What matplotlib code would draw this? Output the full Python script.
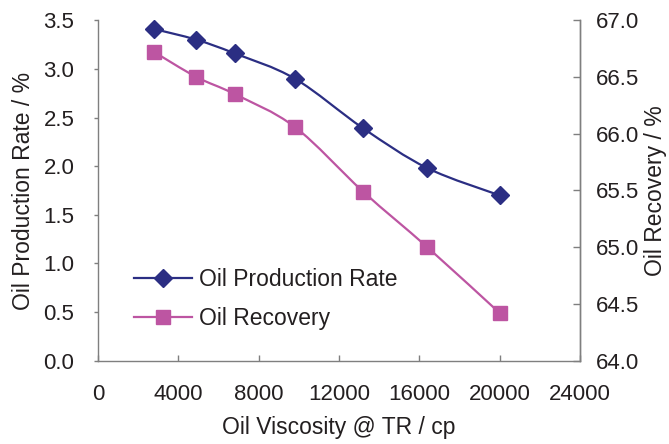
import matplotlib
matplotlib.use("Agg")
import matplotlib.pyplot as plt
from matplotlib.path import Path
from matplotlib.patches import PathPatch
from matplotlib.lines import Line2D

plt.rcParams['font.family'] = ['Liberation Sans', 'DejaVu Sans']

# viscosity (cp) and the two responses
viscosity = [2800, 4900, 6800, 9800, 13200, 16400, 20000]
production_rate = [3.41, 3.30, 3.16, 2.90, 2.39, 1.98, 1.70]
recovery = [66.72, 66.50, 66.35, 66.06, 65.49, 65.00, 64.42]

x_ticks = [0, 4000, 8000, 12000, 16000, 20000, 24000]
left_ticks = [0.0, 0.5, 1.0, 1.5, 2.0, 2.5, 3.0, 3.5]
right_ticks = [64.0, 64.5, 65.0, 65.5, 66.0, 66.5, 67.0]

navy = '#2b2e83'
pink = '#bd55a2'
text_col = '#231f20'
spine_col = '#7f7f7f'
tick_fs = 16
label_fs = 16.5


def smooth_path(xs, ys):
    """Bezier path through the points, Excel-style smoothed line."""
    n = len(xs)
    verts = [(xs[0], ys[0])]
    codes = [Path.MOVETO]
    for i in range(n - 1):
        x0, y0 = (xs[i - 1], ys[i - 1]) if i > 0 else (xs[i], ys[i])
        x3, y3 = (xs[i + 2], ys[i + 2]) if i + 2 < n else (xs[i + 1], ys[i + 1])
        c1 = (xs[i] + (xs[i + 1] - x0) / 6, ys[i] + (ys[i + 1] - y0) / 6)
        c2 = (xs[i + 1] - (x3 - xs[i]) / 6, ys[i + 1] - (y3 - ys[i]) / 6)
        verts += [c1, c2, (xs[i + 1], ys[i + 1])]
        codes += [Path.CURVE4] * 3
    return Path(verts, codes)


fig = plt.figure(figsize=(6.69, 4.44), dpi=100)
ax = fig.add_axes([0.1465, 0.1876, 0.7205, 0.7667])
ax2 = ax.twinx()

ax.add_patch(PathPatch(smooth_path(viscosity, production_rate), fill=False,
                       edgecolor=navy, lw=1.6, zorder=3))
ax.plot(viscosity, production_rate, ls='none', marker='D', ms=9,
        color=navy, zorder=4)
ax2.add_patch(PathPatch(smooth_path(viscosity, recovery), fill=False,
                        edgecolor=pink, lw=1.6, zorder=3))
ax2.plot(viscosity, recovery, ls='none', marker='s', ms=9.5,
         color=pink, zorder=4)

ax.set_xlim(0, 24000)
ax.set_ylim(0, 3.5)
ax2.set_ylim(64, 67)
ax.set_xticks(x_ticks)
ax.set_yticks(left_ticks)
ax2.set_yticks(right_ticks)
ax.set_xticklabels([str(v) for v in x_ticks])
ax.set_yticklabels([f'{v:.1f}' for v in left_ticks])
ax2.set_yticklabels([f'{v:.1f}' for v in right_ticks])

for a in (ax, ax2):
    a.spines['top'].set_visible(False)
    for s in a.spines.values():
        s.set_color(spine_col)
        s.set_linewidth(1.0)
ax2.spines['left'].set_visible(False)
ax2.spines['bottom'].set_visible(False)

ax.tick_params(axis='y', direction='out', length=3, width=1, color=spine_col,
               labelsize=tick_fs, labelcolor=text_col, pad=14)
ax.tick_params(axis='x', direction='in', length=4, width=1, color=spine_col,
               labelsize=tick_fs, labelcolor=text_col, pad=17)
ax2.tick_params(axis='y', direction='in', length=5, width=1, color=spine_col,
                labelsize=tick_fs, labelcolor=text_col, pad=11.5)

ax.set_xlabel('Oil Viscosity @ TR / cp', fontsize=label_fs, color=text_col,
              labelpad=8)
ax.set_ylabel('Oil Production Rate / %', fontsize=label_fs, color=text_col,
              labelpad=6)
ax2.set_ylabel('Oil Recovery / %', fontsize=label_fs, color=text_col,
               labelpad=3.5)

handles = [
    Line2D([], [], color=navy, lw=1.6, marker='D', ms=9),
    Line2D([], [], color=pink, lw=1.6, marker='s', ms=9.5),
]
ax.legend(handles, ['Oil Production Rate', 'Oil Recovery'],
          loc='lower left', bbox_to_anchor=(0.032, 0.03), frameon=False,
          fontsize=label_fs, handlelength=2.55, handletextpad=0.3,
          labelspacing=0.7, labelcolor=text_col)

fig.savefig('out.png', dpi=100)
